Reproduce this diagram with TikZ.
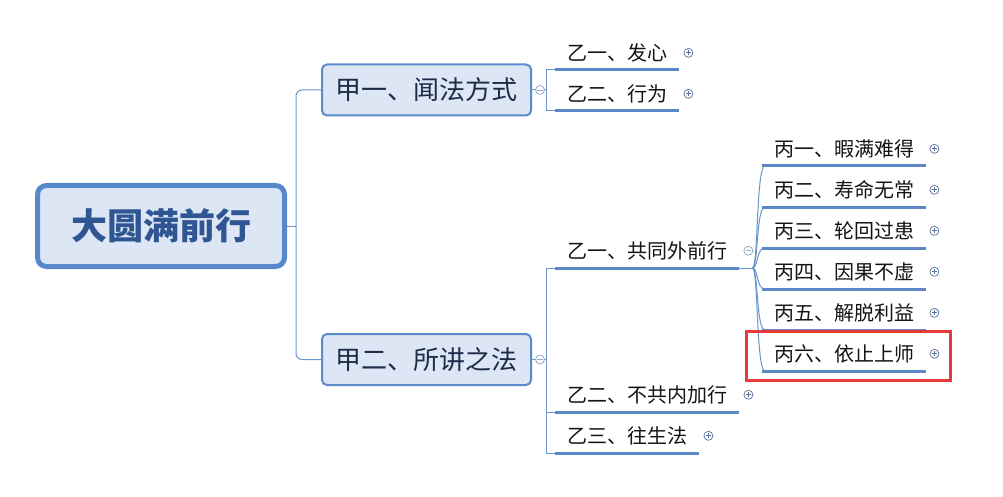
\documentclass[tikz,border=0pt]{standalone}
\usepackage{fontspec}
\newfontfamily\cjk{Noto Sans CJK SC}
\usetikzlibrary{calc}
\definecolor{boxfill}{HTML}{DCE6F4}
\definecolor{boxline}{HTML}{5B8BCB}
\definecolor{rootline}{HTML}{5788CC}
\definecolor{roottext}{HTML}{2F5592}
\definecolor{jtext}{HTML}{1F2C48}
\definecolor{connc}{HTML}{6B95CF}
\definecolor{ulc}{HTML}{5C88C5}
\definecolor{plusc}{HTML}{5A6F99}
\definecolor{minusc}{HTML}{92A9CC}
\definecolor{redc}{HTML}{E53B3B}
\begin{document}
\begin{tikzpicture}[x=1pt,y=-1pt,
  rootbox/.style={draw=rootline, line width=5pt, fill=boxfill, rounded corners=9pt, minimum width=247pt, minimum height=81pt, inner sep=0pt, font=\cjk\bfseries\fontsize{36}{40}\selectfont, text=roottext},
  jbox/.style={draw=boxline, line width=2pt, fill=boxfill, rounded corners=5pt, minimum width=209pt, minimum height=51pt, inner sep=0pt, font=\cjk\fontsize{26}{30}\selectfont, text=jtext},
  topic/.style={anchor=south west, inner xsep=12pt, inner ysep=0pt, minimum height=34pt, font=\cjk\fontsize{20}{24}\selectfont, text=black!92},
  uline/.style={draw=ulc, line width=3pt},
  conn/.style={draw=connc, line width=1pt},
  pluscirc/.style={circle, draw=plusc, line width=0.7pt, minimum size=9pt, inner sep=0pt, path picture={\draw[plusc,line width=0.7pt] ($(path picture bounding box.center)+(-2.6,0)$) -- ++(5.2,0) ($(path picture bounding box.center)+(0,-2.6)$) -- ++(0,5.2);}},
  minuscirc/.style={circle, draw=minusc, line width=0.8pt, minimum size=9pt, inner sep=0pt, path picture={\draw[minusc,line width=0.8pt] ($(path picture bounding box.center)+(-2.6,0)$) -- ++(5.2,0);}},
  redbox/.style={draw=redc, line width=3pt}
]
\useasboundingbox[fill=white] (0,0) rectangle (1003,497);

% main nodes
\node[rootbox] (root) at (161,226) {大圆满前行};
\node[jbox] (j1) at (426.5,90) {甲一、闻法方式};
\node[jbox] (j2) at (426.5,359.5) {甲二、所讲之法};

% level 2
\node[topic] (a1) at (555,70) {乙一、发心};
\node[topic] (a2) at (555,111) {乙二、行为};
\node[topic] (b1) at (555,268) {乙一、共同外前行};
\node[topic] (b2) at (555,412) {乙二、不共内加行};
\node[topic] (b3) at (555,453) {乙三、往生法};

% level 3
\node[topic] (c1) at (762,166) {丙一、暇满难得};
\node[topic] (c2) at (762,207) {丙二、寿命无常};
\node[topic] (c3) at (762,248) {丙三、轮回过患};
\node[topic] (c4) at (762,289) {丙四、因果不虚};
\node[topic] (c5) at (762,330) {丙五、解脱利益};
\node[topic] (c6) at (762,371) {丙六、依止上师};

% collapse / expand markers
\node[minuscirc] (m1) at ($(j1.east)+(8,0)$) {};
\node[minuscirc] (m2) at ($(j2.east)+(8,0)$) {};
\node[minuscirc] (m3) at ($(b1.east)+(9,0)$) {};
\foreach \n in {a1,a2,b2,b3}{\node[pluscirc] (p\n) at ($(\n.east)+(9,0)$) {};}
\foreach \n in {c1,c2,c3,c4,c5,c6}{\node[pluscirc] (p\n) at ($(\n.east)+(8,0)$) {};}

% connectors root -> level 1
\draw[conn, rounded corners=6pt] (j1.west) -| ($(root.east)+(9,0)$) |- (j2.west);
\draw[conn] (root.east) -- ++(9,0);

% level 1 -> level 2
\draw[conn] (j1.east) -- (m1.west);
\draw[conn] (m1.east) -- ++(1.5,0) coordinate (v1);
\draw[conn] (a1.south west) -| (v1) |- (a2.south west);
\draw[conn] (j2.east) -- (m2.west);
\draw[conn] (m2.east) -- ++(1.5,0) coordinate (v2);
\draw[conn] (b1.south west) -| (v2) |- (b3.south west);
\draw[conn] (v2 |- b2.south west) -- (b2.south west);

% level 2 -> level 3
\draw[conn] (b1.south east) -- ++(13,0) coordinate (J);
\foreach \n in {c1,c2,c3,c4,c5,c6}{
  \draw[conn] (J) .. controls ($(J)+(6,0)$) and ($(\n.south west)+(-6,0)$) .. ($(\n.south west)+(3,0)$);
}

% underlines
\foreach \n in {a1,a2,b1,b2,b3,c1,c2,c3,c4,c5,c6}{
  \draw[uline] (\n.south west) -- (\n.south east);
}

% highlight
\draw[redbox] ($(c6.south west)+(-15.5,9.5)$) rectangle ($(c6.north east)+(24.5,-5.5)$);
\end{tikzpicture}
\end{document}
